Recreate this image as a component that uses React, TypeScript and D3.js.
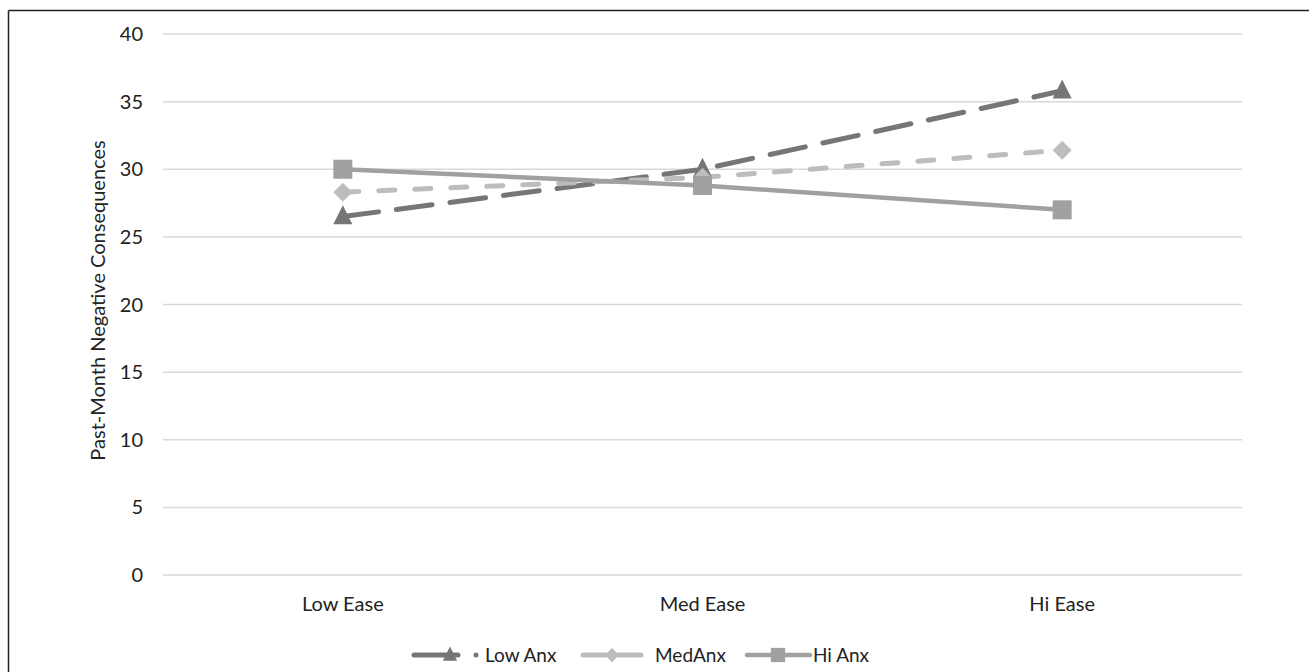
import React from "react";
import * as d3 from "d3";

const categories = ["Low Ease", "Med Ease", "Hi Ease"];
const lowAnx = [26.5, 30.0, 35.8];
const medAnx = [28.3, 29.4, 31.4];
const hiAnx = [30.0, 28.8, 27.0];
const yTicks = [0, 5, 10, 15, 20, 25, 30, 35, 40];
const yLabel = "Past-Month Negative Consequences";

const FONT = "Lato, 'Open Sans', sans-serif";

type Series = { name: string; values: number[]; color: string; width: number; dash: string | null; marker: "tri" | "dia" | "sq" };

const series: Series[] = [
  { name: "Low Anx", values: lowAnx, color: "#767676", width: 5, dash: "36,18", marker: "tri" },
  { name: "MedAnx", values: medAnx, color: "#bdbdbd", width: 5, dash: "16,20", marker: "dia" },
  { name: "Hi Anx", values: hiAnx, color: "#a0a0a0", width: 4.5, dash: null, marker: "sq" },
];

function Marker({ kind, x, y, color, s = 1 }: { kind: string; x: number; y: number; color: string; s?: number }) {
  if (kind === "tri") {
    const h = 19 * s, w = 19 * s;
    return <path d={`M${x},${y - h * 0.6}L${x + w / 2},${y + h * 0.4}L${x - w / 2},${y + h * 0.4}Z`} fill={color} />;
  }
  if (kind === "dia") {
    const r = 9.5 * s;
    return <path d={`M${x},${y - r}L${x + r},${y}L${x},${y + r}L${x - r},${y}Z`} fill={color} />;
  }
  const a = 19 * s;
  return <rect x={x - a / 2} y={y - a / 2} width={a} height={a} fill={color} />;
}

export default function App() {
  const W = 1309, H = 672;
  const x = d3.scaleBand<string>().domain(categories).range([163, 1242]);
  const y = d3.scaleLinear().domain([0, 40]).range([575, 34]);
  const cx = (c: string) => (x(c) as number) + x.bandwidth() / 2;
  const line = d3.line<number>().x((_, i) => cx(categories[i])).y((v) => y(v));

  const legendItems = [
    { s: series[0], x0: 414, x1: 458, mx: 450, tx: 485, dot: true },
    { s: series[1], x0: 583, x1: 641, mx: 612, tx: 655, dot: false },
    { s: series[2], x0: 747, x1: 810, mx: 778, tx: 813, dot: false },
  ];

  const fs = 20;

  return (
    <svg width={W} height={H} style={{ position: "absolute", left: 0, top: 0 }} fontFamily={FONT}>
      <rect x={0} y={0} width={W} height={H} fill="#fff" />
      <line x1={8.5} y1={10.5} x2={W} y2={10.5} stroke="#222" strokeWidth={1.5} />
      <line x1={8.5} y1={10.5} x2={8.5} y2={H} stroke="#222" strokeWidth={1.5} />
      {yTicks.map((t) => (
        <g key={t}>
          <line x1={163} x2={1242} y1={y(t)} y2={y(t)} stroke="#d9d9d9" strokeWidth={1.5} />
          <text x={143} y={y(t)} dy="0.35em" textAnchor="end" fontSize={fs} fill="#222">{t}</text>
        </g>
      ))}
      {categories.map((c) => (
        <text key={c} x={cx(c)} y={611} textAnchor="middle" fontSize={fs} fill="#222">{c}</text>
      ))}
      <text transform={`translate(105,${y(20) - 4}) rotate(-90)`} textAnchor="middle" fontSize={fs} fill="#222">{yLabel}</text>
      {series.map((s) => (
        <path key={s.name} d={line(s.values) || ""} fill="none" stroke={s.color} strokeWidth={s.width}
          strokeDasharray={s.dash || undefined} strokeLinecap="round" />
      ))}
      {series.map((s) => (
        <g key={s.name + "m"}>
          {s.values.map((v, i) => (
            <Marker key={i} kind={s.marker} x={cx(categories[i])} y={y(v)} color={s.color} />
          ))}
        </g>
      ))}
      {legendItems.map((it) => (
        <g key={it.s.name}>
          <line x1={it.x0} x2={it.x1} y1={655} y2={655} stroke={it.s.color} strokeWidth={it.s.width} strokeLinecap="round" />
          <Marker kind={it.s.marker} x={it.mx} y={655} color={it.s.color} s={0.75} />
          {it.dot && <circle cx={476} cy={655} r={2.5} fill={it.s.color} />}
          <text x={it.tx} y={655} dy="0.35em" fontSize={19} fill="#222">{it.s.name}</text>
        </g>
      ))}
    </svg>
  );
}
